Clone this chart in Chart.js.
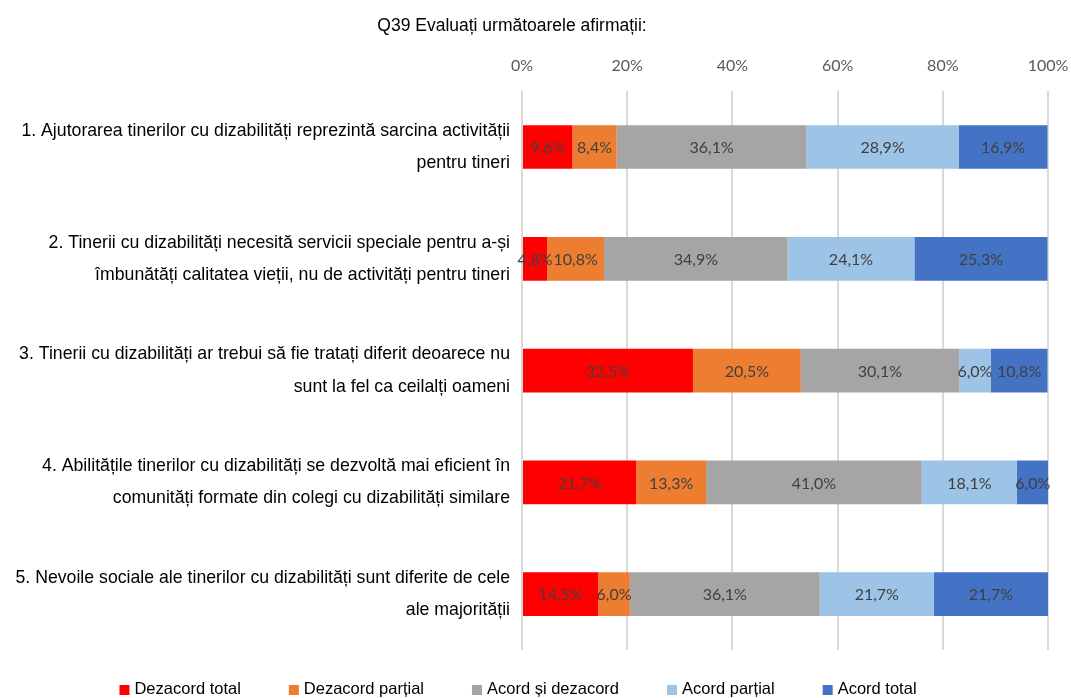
<!DOCTYPE html>
<html>
<head>
<meta charset="utf-8">
<script src="https://cdn.jsdelivr.net/npm/chart.js@4"></script>
<style>
html,body{margin:0;padding:0;background:#fff;}
#wrap{width:1071px;height:698px;position:relative;}
</style>
</head>
<body>
<div id="wrap"><canvas id="c" width="1071" height="698"></canvas></div>
<script>
const titleText = "Q39 Evaluați următoarele afirmații:";
const categories = [
  ["1. Ajutorarea tinerilor cu dizabilități reprezintă sarcina activității", "pentru tineri"],
  ["2. Tinerii cu dizabilități necesită servicii speciale pentru a-și", "îmbunătăți calitatea vieții, nu de activități pentru tineri"],
  ["3. Tinerii cu dizabilități ar trebui să fie tratați diferit deoarece nu", "sunt la fel ca ceilalți oameni"],
  ["4. Abilitățile tinerilor cu dizabilități se dezvoltă mai eficient în", "comunități formate din colegi cu dizabilități similare"],
  ["5. Nevoile sociale ale tinerilor cu dizabilități sunt diferite de cele", "ale majorității"]
];
const seriesNames = ["Dezacord total", "Dezacord parțial", "Acord și dezacord", "Acord parțial", "Acord total"];
const dezacordTotal   = [9.6, 4.8, 32.5, 21.7, 14.5];
const dezacordPartial = [8.4, 10.8, 20.5, 13.3, 6.0];
const acordSiDezacord = [36.1, 34.9, 30.1, 41.0, 36.1];
const acordPartial    = [28.9, 24.1, 6.0, 18.1, 21.7];
const acordTotal      = [16.9, 25.3, 10.8, 6.0, 21.7];
const xTicks = [0, 20, 40, 60, 80, 100];

const colors = ["#FF0000", "#ED7D31", "#A5A5A5", "#9DC3E6", "#4472C4"];
const seriesData = [dezacordTotal, dezacordPartial, acordSiDezacord, acordPartial, acordTotal];

const TEXT_FONT = '"Liberation Sans", Arial, sans-serif';

const titlePlugin = {
  id: 'customTitle',
  afterDraw(chart) {
    const ctx = chart.ctx;
    ctx.save();
    ctx.font = '17.5px ' + TEXT_FONT;
    ctx.fillStyle = '#000';
    ctx.textAlign = 'center';
    ctx.textBaseline = 'middle';
    ctx.fillText(titleText, 512, 26);
    ctx.restore();
  }
};

const legendPlugin = {
  id: 'customLegend',
  afterDraw(chart) {
    const ctx = chart.ctx;
    ctx.save();
    ctx.font = '16.5px ' + TEXT_FONT;
    ctx.textBaseline = 'middle';
    ctx.textAlign = 'left';
    const box = 10, gapBox = 5, gap = 48;
    const widths = seriesNames.map(n => box + gapBox + ctx.measureText(n).width);
    const total = widths.reduce((a, b) => a + b, 0) + gap * (widths.length - 1);
    let x = 518 - total / 2;
    const y = 689;
    seriesNames.forEach((n, i) => {
      ctx.fillStyle = colors[i];
      ctx.fillRect(x, y - box / 2 + 1, box, box);
      ctx.fillStyle = '#000';
      ctx.fillText(n, x + box + gapBox, y);
      x += widths[i] + gap;
    });
    ctx.restore();
  }
};

const valueLabels = {
  id: 'valueLabels',
  afterDatasetsDraw(chart) {
    const ctx = chart.ctx;
    ctx.save();
    ctx.font = '16px Lato, "Liberation Sans", sans-serif';
    ctx.fillStyle = '#404040';
    ctx.textAlign = 'center';
    ctx.textBaseline = 'middle';
    chart.data.datasets.forEach((ds, di) => {
      const meta = chart.getDatasetMeta(di);
      meta.data.forEach((bar, i) => {
        const v = ds.data[i];
        const cx = (bar.x + bar.base) / 2;
        ctx.fillText(v.toFixed(1).replace('.', ',') + '%', cx, bar.y + 1);
      });
    });
    ctx.restore();
  }
};

new Chart(document.getElementById('c'), {
  type: 'bar',
  data: {
    labels: categories,
    datasets: seriesNames.map((n, i) => ({
      label: n,
      data: seriesData[i],
      backgroundColor: colors[i],
      borderWidth: 0,
      categoryPercentage: 1.0,
      barPercentage: 0.39
    }))
  },
  options: {
    indexAxis: 'y',
    responsive: false,
    animation: false,
    layout: { padding: { top: 40, right: 23, left: 0, bottom: 48 } },
    scales: {
      x: {
        position: 'top',
        stacked: true,
        min: 0,
        max: 100,
        afterBuildTicks(scale) { scale.ticks = xTicks.map(v => ({ value: v })); },
        afterFit(scale) { scale.paddingRight = 0; scale.paddingLeft = 0; },
        ticks: {
          callback: v => v + '%',
          color: '#595959',
          font: { family: 'Lato, "Liberation Sans", sans-serif', size: 16 },
          padding: 16
        },
        grid: { color: '#D9D9D9', lineWidth: 2, drawTicks: false },
        border: { display: false }
      },
      y: {
        stacked: true,
        afterFit(scale) { scale.width = 522; },
        ticks: {
          color: '#000',
          font: { family: TEXT_FONT, size: 17.7, lineHeight: 1.81 },
          padding: 12
        },
        grid: { display: false, drawTicks: false },
        border: { display: false }
      }
    },
    plugins: {
      legend: { display: false },
      title: { display: false },
      tooltip: { enabled: false }
    }
  },
  plugins: [titlePlugin, valueLabels, legendPlugin]
});
</script>
</body>
</html>
